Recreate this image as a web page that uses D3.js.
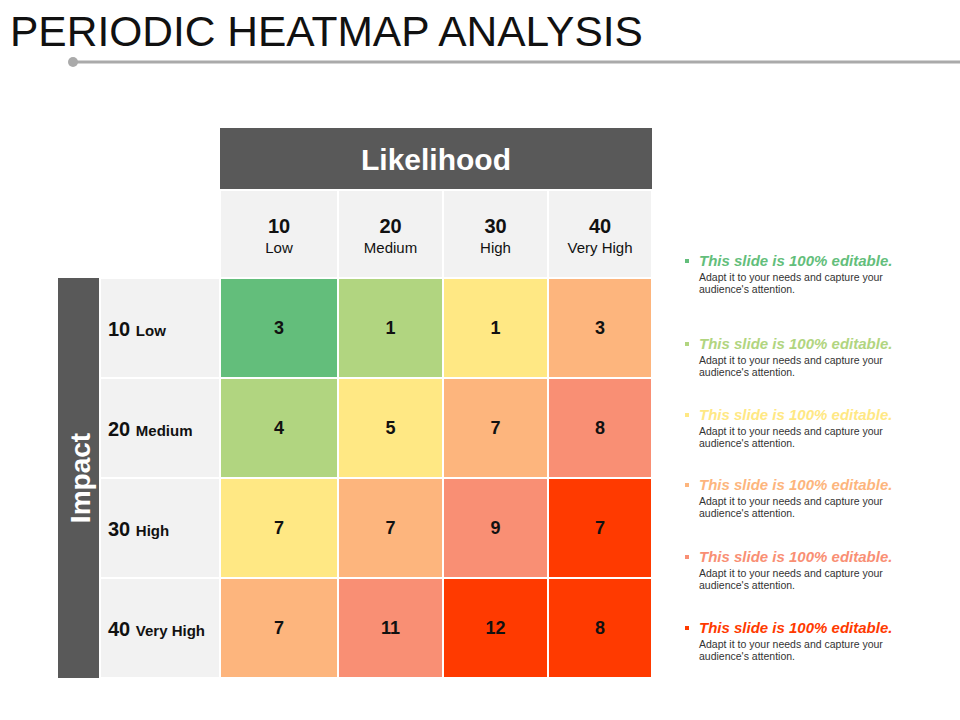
<!DOCTYPE html>
<html><head><meta charset="utf-8">
<script src="https://cdn.jsdelivr.net/npm/d3@7"></script>
<style>body{margin:0;background:#fff;font-family:Arial,"Liberation Sans",sans-serif}</style>
</head><body>
<script>
// data
var likelihood = ["10", "20", "30", "40"];
var likelihoodNames = ["Low", "Medium", "High", "Very High"];
var impact = ["10", "20", "30", "40"];
var impactNames = ["Low", "Medium", "High", "Very High"];
var values = [[3, 1, 1, 3], [4, 5, 7, 8], [7, 7, 9, 7], [7, 11, 12, 8]];
var levels = [[0, 1, 2, 3], [1, 2, 3, 4], [2, 3, 4, 5], [3, 4, 5, 5]];
var palette = ["#63be7b", "#b1d580", "#ffe884", "#fdb57d", "#f98f74", "#ff3a00"];
var noteY = [265, 348, 419, 489, 561, 632];

var svg = d3.select("body").append("svg").attr("width", 960).attr("height", 720);

svg.append("text").text("PERIODIC HEATMAP ANALYSIS")
  .attr("x", 10).attr("y", 46).style("font-size", "42.5px").attr("fill", "#111");
svg.append("line").attr("x1", 73).attr("x2", 960).attr("y1", 62).attr("y2", 62)
  .attr("stroke", "#aaa").attr("stroke-width", 3);
svg.append("circle").attr("cx", 73).attr("cy", 62).attr("r", 5).attr("fill", "#aaa");

var widths = [118, 105, 105, 104];
var xs = [220, 338, 443, 548];
var y = d3.scaleBand().domain(impact).range([278, 678]);

// header
svg.append("rect").attr("x", 220).attr("y", 128).attr("width", 432).attr("height", 62).attr("fill", "#595959");
svg.append("text").text("Likelihood").attr("x", 436).attr("y", 170).attr("text-anchor", "middle")
  .attr("fill", "#fff").style("font-size", "30px").style("font-weight", "bold");
svg.append("rect").attr("x", 58).attr("y", 278).attr("width", 42).attr("height", 400).attr("fill", "#595959");
svg.append("text").text("Impact").attr("transform", "translate(90,478) rotate(-90)").attr("text-anchor", "middle")
  .attr("fill", "#fff").style("font-size", "28px").style("font-weight", "bold");

likelihood.forEach(function(d, i) {
  svg.append("rect").attr("x", xs[i]).attr("y", 190).attr("width", widths[i]).attr("height", 88)
    .attr("fill", "#f2f2f2").attr("stroke", "#fff").attr("stroke-width", 2);
  var t = svg.append("text").attr("x", xs[i] + widths[i] / 2).attr("text-anchor", "middle").attr("fill", "#111");
  t.append("tspan").text(d).attr("x", xs[i] + widths[i] / 2).attr("y", 233).style("font-size", "20px").style("font-weight", "bold");
  t.append("tspan").text(likelihoodNames[i]).attr("x", xs[i] + widths[i] / 2).attr("y", 253).style("font-size", "15px");
});

impact.forEach(function(d, r) {
  var yy = y(d), h = y.bandwidth();
  svg.append("rect").attr("x", 100).attr("y", yy).attr("width", 120).attr("height", h)
    .attr("fill", "#f2f2f2").attr("stroke", "#fff").attr("stroke-width", 2);
  var t = svg.append("text").attr("x", 108).attr("y", yy + h / 2 + 8).attr("fill", "#111").style("font-weight", "bold");
  t.append("tspan").text(d + " ").style("font-size", "20px");
  t.append("tspan").text(impactNames[r]).style("font-size", "15px");
  values[r].forEach(function(v, c) {
    svg.append("rect").attr("x", xs[c]).attr("y", yy).attr("width", widths[c]).attr("height", h)
      .attr("fill", palette[levels[r][c]]).attr("stroke", "#fff").attr("stroke-width", 2);
    svg.append("text").text(v).attr("x", xs[c] + widths[c] / 2).attr("y", yy + 56)
      .attr("text-anchor", "middle").style("font-size", "18px").style("font-weight", "bold").attr("fill", "#111");
  });
});

// notes
noteY.forEach(function(ny, i) {
  svg.append("rect").attr("x", 685).attr("y", ny - 6).attr("width", 4).attr("height", 4).attr("fill", palette[i]);
  svg.append("text").text("This slide is 100% editable.").attr("x", 699).attr("y", ny + 1)
    .attr("fill", palette[i]).style("font-size", "15px").style("font-weight", "bold").style("font-style", "italic");
  svg.append("text").text("Adapt it to your needs and capture your").attr("x", 699).attr("y", ny + 16)
    .attr("fill", "#333").style("font-size", "10.5px");
  svg.append("text").text("audience's attention.").attr("x", 699).attr("y", ny + 28)
    .attr("fill", "#333").style("font-size", "10.5px");
});
</script>
</body></html>
